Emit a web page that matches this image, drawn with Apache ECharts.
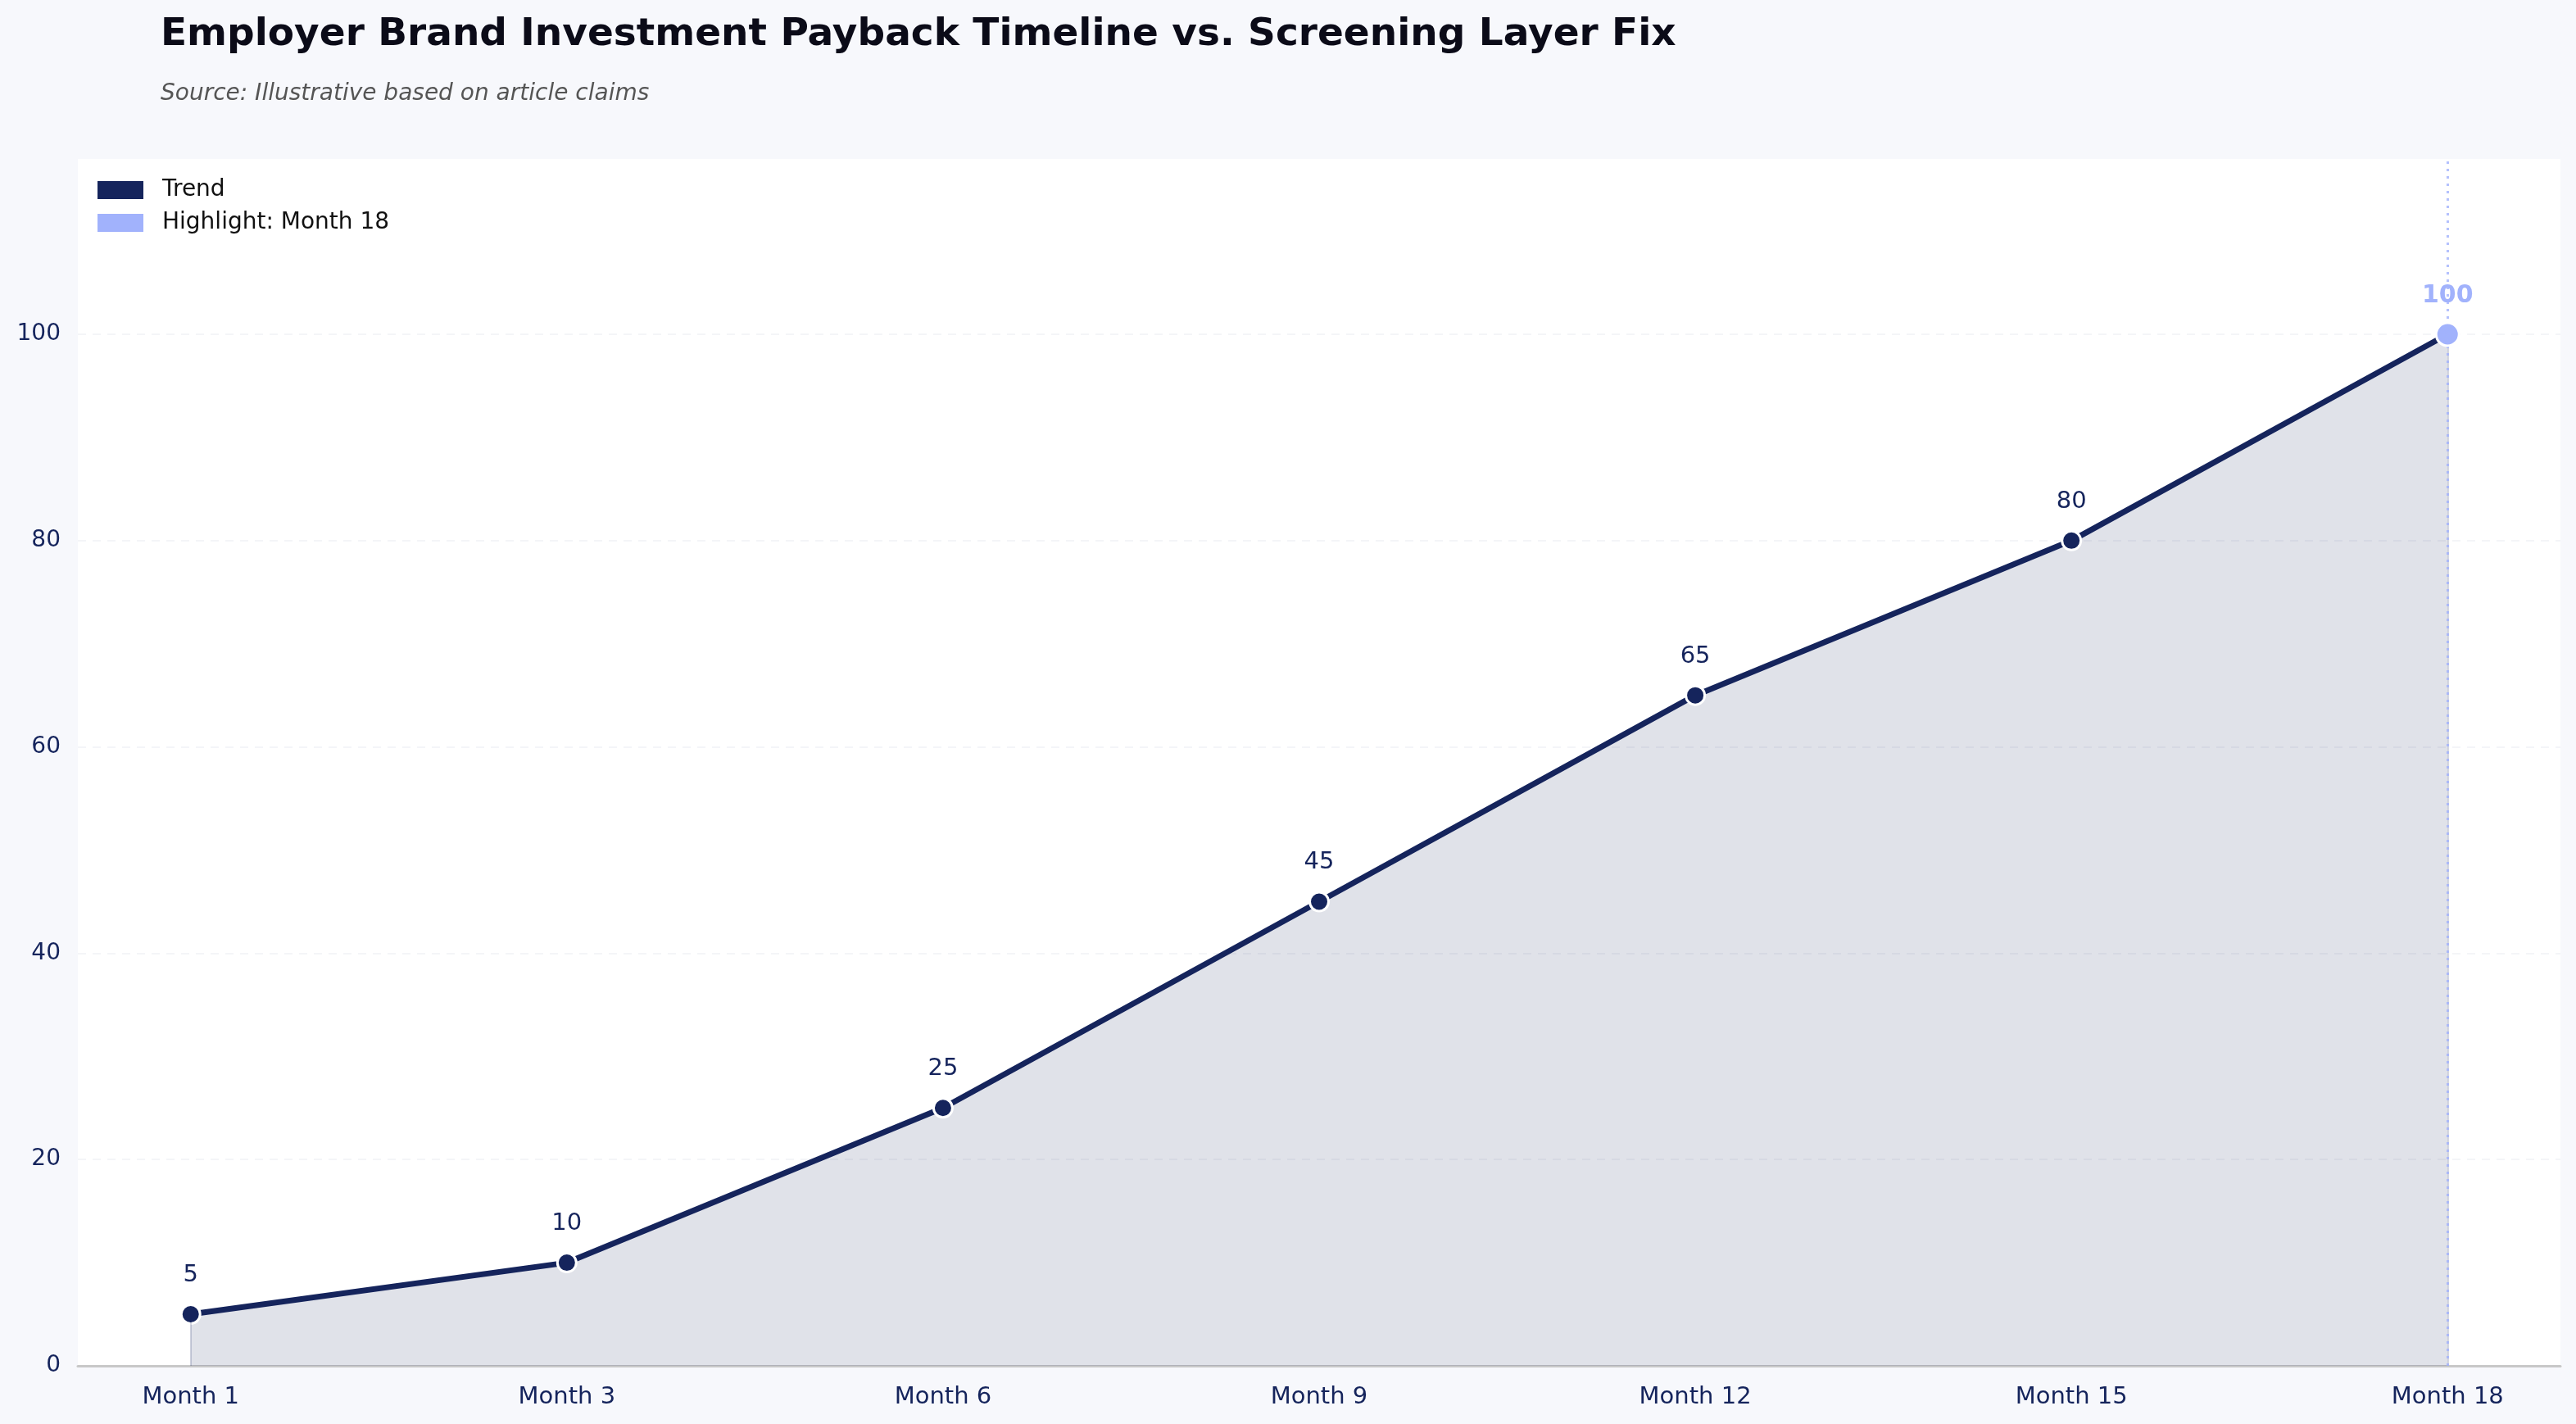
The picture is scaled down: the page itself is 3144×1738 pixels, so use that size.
<!DOCTYPE html>
<html>
<head>
<meta charset="utf-8">
<script src="https://cdn.jsdelivr.net/npm/echarts@6/dist/echarts.min.js"></script>
<style>
html,body{margin:0;padding:0;background:#f7f8fc;}
#chart{width:3144px;height:1738px;}
</style>
</head>
<body>
<div id="chart"></div>
<script>
const categories = ['Month 1','Month 3','Month 6','Month 9','Month 12','Month 15','Month 18'];
const values = [5, 10, 25, 45, 65, 80, 100];
const highlightIndex = 6;
const yTicks = [0, 20, 40, 60, 80, 100];
const titleText = 'Employer Brand Investment Payback Timeline vs. Screening Layer Fix';
const sourceText = 'Source: Illustrative based on article claims';

const NAVY = '#15245c';
const LIGHT = '#a1b2fc';
const FONT = 'DejaVu Sans';

const lineData = values.map((v, i) => ({
  value: [i, v],
  label: { show: i !== highlightIndex }
}));
const hlData = [[highlightIndex, values[highlightIndex]]];

const chart = echarts.init(document.getElementById('chart'), null, {renderer: 'canvas'});
chart.setOption({
  backgroundColor: '#f7f8fc',
  animation: false,
  textStyle: { fontFamily: FONT },
  title: [
    { text: titleText, left: 191, top: 14,
      textStyle: { fontFamily: FONT, fontSize: 47, fontWeight: 'bold', color: '#0b0b18' } },
    { text: sourceText, left: 191, top: 96,
      textStyle: { fontFamily: FONT, fontSize: 28, fontStyle: 'italic', fontWeight: 'normal', color: '#555555' } }
  ],
  legend: {
    orient: 'vertical', left: 114, top: 213, itemGap: 12,
    itemWidth: 56, itemHeight: 22, icon: 'rect',
    itemStyle: { borderWidth: 0 },
    textStyle: { fontFamily: FONT, fontSize: 28, color: '#111111', padding: [0,0,0,18] },
    data: ['Trend', 'Highlight: Month 18']
  },
  grid: {
    left: 95, right: 19, top: 194, bottom: 71,
    show: true, backgroundColor: '#ffffff', borderWidth: 0
  },
  xAxis: {
    type: 'value', min: -0.3, max: 6.3,
    axisLine: { show: true, onZero: false, lineStyle: { color: '#c8c8c8', width: 3 } },
    axisTick: { show: false },
    splitLine: { show: false },
    axisLabel: {
      customValues: categories.map((c, i) => i),
      formatter: v => categories[Math.round(v)],
      fontFamily: FONT, fontSize: 29, color: NAVY, margin: 24
    }
  },
  yAxis: {
    type: 'value', min: 0, max: 117, interval: 20,
    axisLine: { show: false },
    axisTick: { show: false },
    splitLine: { show: true, showMinLine: false, showMaxLine: false,
      lineStyle: { color: '#f4f5f8', type: [10, 8], width: 2 } },
    axisLabel: {
      customValues: yTicks,
      fontFamily: FONT, fontSize: 28, color: NAVY, margin: 21
    }
  },
  series: [
    {
      name: 'Trend', type: 'line', data: lineData,
      symbol: 'circle', symbolSize: 23,
      lineStyle: { color: NAVY, width: 7 },
      itemStyle: { color: NAVY, borderColor: '#ffffff', borderWidth: 3 },
      areaStyle: { color: NAVY, opacity: 0.135 },
      label: { show: true, position: 'top', distance: 20,
        fontFamily: FONT, fontSize: 29, color: NAVY },
      z: 3,
      markLine: {
        silent: true, symbol: 'none', label: { show: false },
        lineStyle: { color: NAVY, opacity: 0.18, width: 2, type: 'solid' },
        data: [
          [{ coord: [0, 0] }, { coord: [0, values[0]] }],
          [{ coord: [values.length - 1, 0] }, { coord: [values.length - 1, values[values.length - 1]] }]
        ]
      }
    },
    {
      name: 'Highlight: Month 18', type: 'scatter', data: hlData,
      symbol: 'circle', symbolSize: 28,
      itemStyle: { color: LIGHT, borderColor: '#ffffff', borderWidth: 3, opacity: 1 },
      label: { show: true, position: 'top', distance: 16,
        formatter: p => String(p.value[1]),
        fontFamily: FONT, fontSize: 30, fontWeight: 'bold', color: LIGHT },
      z: 5,
      markLine: {
        silent: true, symbol: 'none', label: { show: false },
        lineStyle: { color: LIGHT, opacity: 0.8, width: 3, type: [3, 6] },
        data: [{ xAxis: highlightIndex }]
      }
    }
  ]
});
</script>
</body>
</html>
